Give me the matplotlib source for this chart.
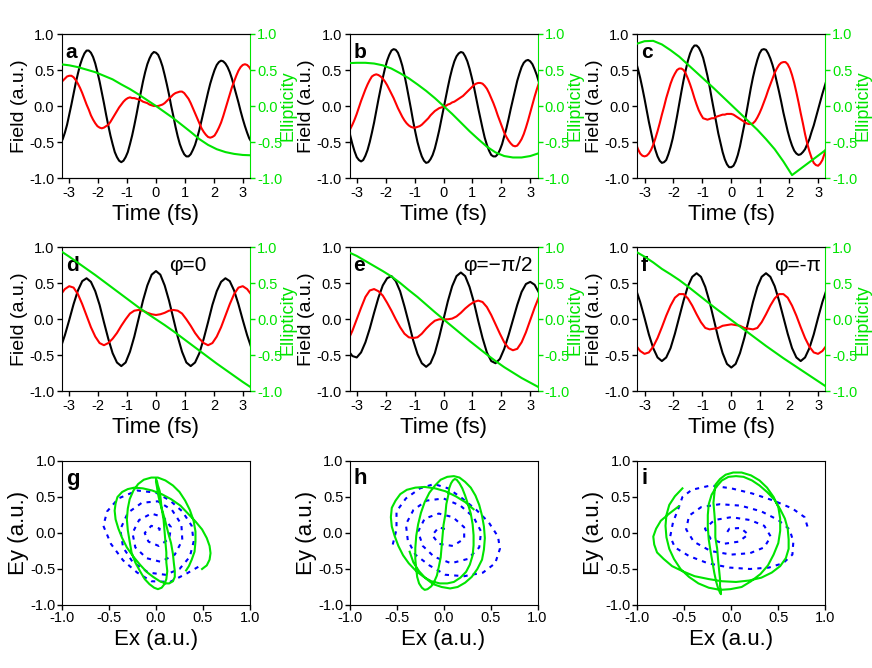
import matplotlib.pyplot as plt
from matplotlib.ticker import FormatStrFormatter, MultipleLocator

plt.rcParams['font.family'] = ['Liberation Sans', 'DejaVu Sans']
plt.rcParams['axes.unicode_minus'] = False

#%%  Data
# time grids (fs): fine one for panels a-c, normal one for d-f
t_fine = [round(-3.3 + 0.075 * i, 3) for i in range(89)]
t = [round(-3.3 + 0.15 * i, 2) for i in range(45)]
t_ell = [round(-3.3 + 0.3 * i, 1) for i in range(23)]

black_a = [-0.52, -0.46, -0.37, -0.26, -0.12, 0.02, 0.17, 0.32, 0.45, 0.57,
           0.66, 0.73, 0.77, 0.77, 0.74, 0.68, 0.59, 0.47, 0.34, 0.19,
           0.04, -0.12, -0.27, -0.41, -0.53, -0.64, -0.71, -0.76, -0.78, -0.76,
           -0.71, -0.64, -0.53, -0.41, -0.27, -0.12, 0.04, 0.19, 0.34, 0.47,
           0.58, 0.66, 0.72, 0.75, 0.74, 0.71, 0.64, 0.55, 0.43, 0.30,
           0.16, 0.00, -0.14, -0.29, -0.42, -0.53, -0.61, -0.67, -0.70, -0.70,
           -0.67, -0.61, -0.54, -0.44, -0.33, -0.20, -0.07, 0.06, 0.19, 0.31,
           0.41, 0.50, 0.57, 0.61, 0.63, 0.62, 0.59, 0.54, 0.47, 0.38,
           0.27, 0.16, 0.05, -0.07, -0.18, -0.28, -0.37, -0.45, -0.50]
red_a = [0.32, 0.35, 0.38, 0.41, 0.42, 0.42, 0.40, 0.36, 0.31, 0.25,
         0.18, 0.10, 0.02, -0.05, -0.13, -0.19, -0.24, -0.28, -0.30, -0.31,
         -0.30, -0.28, -0.26, -0.22, -0.17, -0.12, -0.07, -0.02, 0.02, 0.06,
         0.09, 0.11, 0.12, 0.11, 0.11, 0.10, 0.09, 0.08, 0.06, 0.05,
         0.04, 0.02, 0.01, 0.00, 0.00, 0.00, 0.01, 0.02, 0.04, 0.07,
         0.10, 0.13, 0.16, 0.18, 0.19, 0.20, 0.20, 0.18, 0.14, 0.10,
         0.04, -0.03, -0.10, -0.17, -0.24, -0.31, -0.36, -0.40, -0.43, -0.44,
         -0.43, -0.41, -0.36, -0.30, -0.23, -0.14, -0.04, 0.06, 0.16, 0.26,
         0.34, 0.42, 0.49, 0.54, 0.57, 0.58, 0.57, 0.54, 0.49]
ell_a = [0.58, 0.565, 0.54, 0.505, 0.47, 0.42, 0.37, 0.30, 0.235, 0.16, 0.08, 0.0,
         -0.085, -0.17, -0.265, -0.36, -0.46, -0.54, -0.60, -0.64, -0.665, -0.68, -0.685]

black_b = [-0.26, -0.41, -0.53, -0.63, -0.71, -0.75, -0.77, -0.75, -0.69, -0.61,
           -0.50, -0.37, -0.23, -0.07, 0.09, 0.24, 0.39, 0.52, 0.63, 0.71,
           0.77, 0.79, 0.78, 0.74, 0.66, 0.56, 0.43, 0.28, 0.12, -0.04,
           -0.21, -0.36, -0.50, -0.61, -0.70, -0.76, -0.79, -0.78, -0.74, -0.68,
           -0.59, -0.47, -0.34, -0.19, -0.04, 0.11, 0.26, 0.40, 0.52, 0.62,
           0.69, 0.73, 0.75, 0.74, 0.69, 0.62, 0.52, 0.40, 0.27, 0.12,
           -0.03, -0.17, -0.31, -0.44, -0.54, -0.62, -0.68, -0.70, -0.70, -0.67,
           -0.61, -0.53, -0.42, -0.31, -0.18, -0.04, 0.09, 0.22, 0.35, 0.45,
           0.54, 0.60, 0.63, 0.64, 0.62, 0.58, 0.51, 0.43, 0.33]
red_b = [-0.36, -0.32, -0.26, -0.19, -0.11, -0.02, 0.07, 0.15, 0.23, 0.30,
         0.36, 0.41, 0.43, 0.44, 0.43, 0.41, 0.38, 0.34, 0.29, 0.23,
         0.17, 0.11, 0.04, -0.03, -0.09, -0.15, -0.20, -0.24, -0.27, -0.29,
         -0.30, -0.30, -0.29, -0.28, -0.26, -0.23, -0.20, -0.17, -0.13, -0.10,
         -0.07, -0.05, -0.03, -0.02, -0.01, 0.00, 0.02, 0.03, 0.05, 0.06,
         0.08, 0.10, 0.12, 0.14, 0.17, 0.20, 0.23, 0.26, 0.29, 0.31,
         0.32, 0.32, 0.31, 0.28, 0.24, 0.18, 0.11, 0.04, -0.04, -0.13,
         -0.21, -0.29, -0.37, -0.43, -0.48, -0.52, -0.55, -0.56, -0.55, -0.51,
         -0.46, -0.39, -0.30, -0.20, -0.09, 0.02, 0.13, 0.23, 0.32]
ell_b = [0.595, 0.60, 0.60, 0.59, 0.565, 0.52, 0.455, 0.385, 0.30, 0.21, 0.11, 0.0,
         -0.11, -0.23, -0.35, -0.46, -0.565, -0.645, -0.695, -0.715, -0.715, -0.695, -0.655]

black_c = [0.62, 0.51, 0.39, 0.25, 0.10, -0.06, -0.22, -0.36, -0.50, -0.61,
           -0.70, -0.76, -0.79, -0.78, -0.75, -0.67, -0.57, -0.45, -0.30, -0.14,
           0.03, 0.20, 0.36, 0.50, 0.63, 0.73, 0.80, 0.84, 0.84, 0.81,
           0.75, 0.67, 0.55, 0.42, 0.27, 0.10, -0.06, -0.22, -0.38, -0.51,
           -0.64, -0.74, -0.81, -0.85, -0.85, -0.83, -0.77, -0.68, -0.56, -0.41,
           -0.26, -0.09, 0.08, 0.25, 0.40, 0.53, 0.64, 0.73, 0.78, 0.79,
           0.78, 0.73, 0.66, 0.57, 0.46, 0.33, 0.20, 0.06, -0.09, -0.22,
           -0.35, -0.46, -0.55, -0.62, -0.66, -0.68, -0.67, -0.64, -0.60, -0.53,
           -0.46, -0.36, -0.27, -0.16, -0.05, 0.06, 0.17, 0.27, 0.37]
red_c = [-0.52, -0.60, -0.66, -0.69, -0.70, -0.69, -0.66, -0.61, -0.54, -0.45,
         -0.35, -0.24, -0.12, -0.01, 0.11, 0.21, 0.31, 0.39, 0.45, 0.50,
         0.52, 0.52, 0.50, 0.45, 0.38, 0.30, 0.21, 0.11, 0.02, -0.06,
         -0.12, -0.17, -0.18, -0.19, -0.18, -0.17, -0.17, -0.15, -0.14, -0.13,
         -0.12, -0.12, -0.11, -0.11, -0.11, -0.12, -0.14, -0.16, -0.18, -0.20,
         -0.22, -0.24, -0.25, -0.25, -0.24, -0.21, -0.16, -0.10, -0.03, 0.05,
         0.13, 0.22, 0.30, 0.38, 0.46, 0.52, 0.57, 0.60, 0.61, 0.61,
         0.58, 0.52, 0.43, 0.32, 0.19, 0.05, -0.10, -0.24, -0.39, -0.52,
         -0.63, -0.72, -0.79, -0.82, -0.83, -0.80, -0.75, -0.66, -0.56]
ell_c = [0.86, 0.90, 0.905, 0.855, 0.775, 0.685, 0.575, 0.465, 0.355, 0.245, 0.13, 0.015,
         -0.10, -0.215, -0.33, -0.46, -0.60, -0.77, -0.96, -0.87, -0.78, -0.69, -0.60]

black_d = [-0.40, -0.22, -0.01, 0.21, 0.40, 0.53, 0.57, 0.52, 0.39, 0.20, -0.04, -0.27,
           -0.47, -0.60, -0.65, -0.60, -0.45, -0.24, 0.01, 0.26, 0.47, 0.62, 0.67, 0.62,
           0.47, 0.26, 0.01, -0.24, -0.45, -0.60, -0.65, -0.60, -0.47, -0.27, -0.04, 0.20,
           0.39, 0.52, 0.57, 0.53, 0.40, 0.21, -0.01, -0.22, -0.40]
red_d = [0.34, 0.42, 0.46, 0.44, 0.35, 0.21, 0.05, -0.11, -0.24, -0.33, -0.36, -0.33,
         -0.27, -0.19, -0.09, 0.00, 0.08, 0.12, 0.13, 0.12, 0.09, 0.07, 0.06, 0.07, 0.09,
         0.12, 0.13, 0.12, 0.08, 0.00, -0.09, -0.19, -0.27, -0.33, -0.36, -0.33, -0.24,
         -0.11, 0.05, 0.21, 0.35, 0.44, 0.46, 0.42, 0.34]
ell_d = [0.95, 0.87, 0.785, 0.70, 0.615, 0.525, 0.435, 0.345, 0.255, 0.165, 0.08, 0.0,
         -0.08, -0.165, -0.255, -0.345, -0.435, -0.525, -0.615, -0.70, -0.785, -0.87, -0.95]

black_e = [-0.43, -0.51, -0.53, -0.46, -0.32, -0.13, 0.09, 0.30, 0.47, 0.57, 0.60, 0.53,
           0.39, 0.18, -0.05, -0.29, -0.48, -0.61, -0.66, -0.61, -0.47, -0.25, 0.00, 0.25,
           0.46, 0.60, 0.65, 0.60, 0.45, 0.24, -0.02, -0.26, -0.46, -0.58, -0.61, -0.55,
           -0.41, -0.22, -0.01, 0.20, 0.38, 0.49, 0.52, 0.48, 0.37]
red_e = [-0.29, -0.16, 0.00, 0.16, 0.31, 0.40, 0.42, 0.39, 0.33, 0.23, 0.12, 0.00,
         -0.11, -0.20, -0.25, -0.26, -0.25, -0.20, -0.13, -0.07, -0.02, 0.00, 0.00, 0.00,
         0.01, 0.04, 0.09, 0.15, 0.20, 0.24, 0.26, 0.24, 0.17, 0.06, -0.07, -0.20, -0.32,
         -0.40, -0.43, -0.41, -0.32, -0.18, -0.01, 0.16, 0.31]
ell_e = [0.935, 0.88, 0.81, 0.74, 0.67, 0.595, 0.505, 0.405, 0.31, 0.205, 0.10, 0.0,
         -0.10, -0.20, -0.30, -0.395, -0.49, -0.58, -0.665, -0.74, -0.815, -0.88, -0.945]

black_f = [0.42, 0.24, 0.02, -0.21, -0.40, -0.53, -0.58, -0.53, -0.40, -0.20, 0.03, 0.26,
           0.46, 0.59, 0.64, 0.59, 0.45, 0.24, -0.01, -0.26, -0.47, -0.62, -0.67, -0.62,
           -0.47, -0.26, -0.01, 0.24, 0.45, 0.59, 0.64, 0.59, 0.46, 0.26, 0.03, -0.20,
           -0.40, -0.53, -0.58, -0.53, -0.40, -0.21, 0.02, 0.24, 0.42]
red_f = [-0.36, -0.44, -0.48, -0.46, -0.38, -0.26, -0.11, 0.05, 0.19, 0.30, 0.35, 0.35,
         0.29, 0.19, 0.07, -0.04, -0.12, -0.14, -0.13, -0.12, -0.09, -0.08, -0.07, -0.08,
         -0.09, -0.12, -0.13, -0.14, -0.12, -0.04, 0.07, 0.19, 0.29, 0.35, 0.35, 0.30,
         0.19, 0.05, -0.11, -0.26, -0.38, -0.46, -0.48, -0.44, -0.36]
ell_f = [0.94, 0.87, 0.79, 0.70, 0.625, 0.545, 0.455, 0.36, 0.265, 0.17, 0.08, -0.01,
         -0.10, -0.19, -0.28, -0.37, -0.455, -0.54, -0.62, -0.70, -0.78, -0.86, -0.94]

# blue dashed trajectories in g, h, i (Ex, Ey)
bx_g = [0.45, 0.33, 0.15, -0.05, -0.20, -0.35, -0.48, -0.56, -0.52, -0.40, -0.20, 0.00,
        0.15, 0.28, 0.38, 0.40, 0.36, 0.25, 0.10, -0.08, -0.25, -0.35, -0.38, -0.30,
        -0.15, 0.02, 0.17, 0.27, 0.28, 0.20, 0.05, -0.10, -0.22, -0.25, -0.18, -0.05,
        0.08, 0.16, 0.14, 0.03, -0.08, -0.12, -0.05, 0.04, 0.02]
by_g = [-0.47, -0.56, -0.68, -0.67, -0.55, -0.38, -0.15, 0.10, 0.30, 0.48, 0.59, 0.56,
        0.45, 0.30, 0.10, -0.12, -0.33, -0.50, -0.58, -0.55, -0.40, -0.20, 0.05, 0.28,
        0.42, 0.44, 0.32, 0.12, -0.10, -0.30, -0.40, -0.35, -0.20, 0.00, 0.18, 0.27,
        0.22, 0.08, -0.08, -0.18, -0.12, 0.00, 0.10, 0.06, -0.03]

bx_h = [-0.54, -0.50, -0.50, -0.40, -0.25, -0.10, 0.05, 0.20, 0.35, 0.48, 0.58, 0.60,
        0.55, 0.42, 0.22, 0.02, -0.15, -0.30, -0.38, -0.40, -0.32, -0.18, 0.00, 0.18,
        0.32, 0.40, 0.38, 0.26, 0.08, -0.10, -0.22, -0.27, -0.20, -0.05, 0.10, 0.22,
        0.22, 0.10, -0.05, -0.12, -0.05, 0.05]
by_h = [-0.16, 0.05, 0.30, 0.48, 0.62, 0.68, 0.62, 0.48, 0.32, 0.15, -0.05, -0.22,
        -0.42, -0.55, -0.60, -0.58, -0.45, -0.30, -0.10, 0.12, 0.32, 0.45, 0.48, 0.38,
        0.22, 0.02, -0.20, -0.36, -0.42, -0.33, -0.18, 0.02, 0.20, 0.27, 0.22, 0.08,
        -0.08, -0.18, -0.15, -0.03, 0.08, 0.04]

bx_i = [0.81, 0.78, 0.65, 0.45, 0.22, 0.00, -0.22, -0.42, -0.52, -0.56, -0.62, -0.65,
        -0.60, -0.45, -0.25, -0.02, 0.20, 0.40, 0.55, 0.65, 0.66, 0.62, 0.50, 0.32,
        0.10, -0.12, -0.32, -0.45, -0.48, -0.40, -0.22, 0.00, 0.20, 0.35, 0.42, 0.35,
        0.20, 0.00, -0.18, -0.28, -0.22, -0.08, 0.08, 0.18, 0.10, -0.02, -0.05]
by_i = [0.09, 0.22, 0.34, 0.45, 0.55, 0.62, 0.66, 0.60, 0.50, 0.35, 0.15, -0.05,
        -0.20, -0.32, -0.42, -0.48, -0.50, -0.48, -0.42, -0.30, -0.12, 0.05, 0.18, 0.30,
        0.38, 0.40, 0.36, 0.24, 0.05, -0.12, -0.25, -0.30, -0.28, -0.20, -0.05, 0.10,
        0.18, 0.22, 0.18, 0.06, -0.08, -0.15, -0.12, -0.02, 0.07, 0.06, 0.00]


#%%  Styles and layout
BLACK = '#000000'
RED = '#ff0000'
GREEN = '#00e400'
BLUE = '#0000ff'
LW = 1.5

W, H = 188, 144
lefts = [62, 349.5, 637.3]
tops = [34, 247.3, 461]

def rect(col, row):
    return [lefts[col] / 872, 1 - (tops[row] + H) / 668, W / 872, H / 668]

fig = plt.figure(figsize=(8.72, 6.68), dpi=100)

field_panels = [('a', t_fine, black_a, red_a, ell_a, None),
                ('b', t_fine, black_b, red_b, ell_b, None),
                ('c', t_fine, black_c, red_c, ell_c, None),
                ('d', t, black_d, red_d, ell_d, 'φ=0'),
                ('e', t, black_e, red_e, ell_e, 'φ=−π/2'),
                ('f', t, black_f, red_f, ell_f, 'φ=-π')]
phi_pos = {'d': 0.67, 'e': 0.79, 'f': 0.85}

for k, (letter, tt, black, red, ell, phi) in enumerate(field_panels):
    ax = fig.add_axes(rect(k % 3, k // 3))
    ax.plot(tt, black, color=BLACK, lw=LW)
    ax.plot(tt, red, color=RED, lw=LW)
    ax.set_xlim(-3.25, 3.25)
    ax.set_ylim(-1, 1)
    ax.set_xticks([-3, -2, -1, 0, 1, 2, 3])
    ax.yaxis.set_major_locator(MultipleLocator(0.5))
    ax.yaxis.set_major_formatter(FormatStrFormatter('%.1f'))
    ax.tick_params(direction='out', length=3.5, width=1, labelsize=10.5, pad=2)
    ax.spines['right'].set_visible(False)
    ax.set_xlabel('Time (fs)', fontsize=16, labelpad=3)
    ax.set_ylabel('Field (a.u.)', fontsize=14, labelpad=1)
    ax.text(0.02, 0.875, letter, transform=ax.transAxes, fontsize=15,
            fontweight='bold', va='center', ha='left')
    if phi is not None:
        ax.text(phi_pos[letter], 0.875, phi, transform=ax.transAxes, fontsize=15,
                va='center', ha='center')

    ax2 = ax.twinx()
    ax2.plot(t_ell, ell, color=GREEN, lw=LW)
    ax2.set_ylim(-1, 1)
    ax2.yaxis.set_major_locator(MultipleLocator(0.5))
    ax2.yaxis.set_major_formatter(FormatStrFormatter('%.1f'))
    ax2.tick_params(axis='y', colors=GREEN, direction='out', length=3.5, width=1,
                    labelsize=10.5, pad=1.5)
    ax2.spines['right'].set_color(GREEN)
    ax2.spines['left'].set_visible(False)
    ax2.set_ylabel('Ellipticity', color=GREEN, fontsize=13, labelpad=-2)

liss_panels = [('g', red_a, black_a, bx_g, by_g),
               ('h', red_b, black_b, bx_h, by_h),
               ('i', red_c, black_c, bx_i, by_i)]

for k, (letter, ex, ey, bx, by) in enumerate(liss_panels):
    ax = fig.add_axes(rect(k, 2))
    ax.plot(bx, by, color=BLUE, lw=LW, ls=(0, (2, 2.5)))
    ax.plot(ex, ey, color=GREEN, lw=LW)
    ax.set_xlim(-1, 1)
    ax.set_ylim(-1, 1)
    for axis in (ax.xaxis, ax.yaxis):
        axis.set_major_locator(MultipleLocator(0.5))
        axis.set_major_formatter(FormatStrFormatter('%.1f'))
    ax.tick_params(direction='out', length=3.5, width=1, labelsize=10.5, pad=1)
    ax.set_xlabel('Ex (a.u.)', fontsize=16, labelpad=3)
    ax.set_ylabel('Ey (a.u.)', fontsize=16, labelpad=1)
    ax.text(0.02, 0.875, letter, transform=ax.transAxes, fontsize=16,
            fontweight='bold', va='center', ha='left')

plt.savefig('out.png', dpi=100)
